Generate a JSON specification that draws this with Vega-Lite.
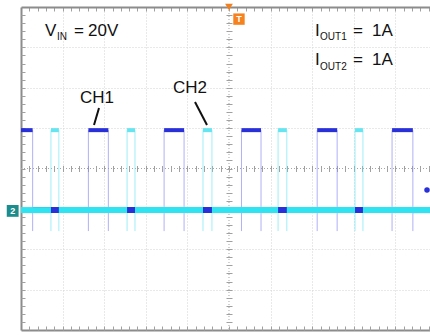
{
  "$schema": "https://vega.github.io/schema/vega-lite/v6.json",
  "width": 409,
  "height": 323,
  "autosize": "none",
  "padding": {"left": 21, "top": 7, "right": 0, "bottom": 5},
  "background": "white",
  "config": {
    "view": {"stroke": null},
    "axis": {"labels": false, "ticks": false, "domain": false, "grid": false}
  },
  "resolve": {"axis": {"x": "independent", "y": "independent"}},
  "datasets": {
    "segments": [
      {"ch": "CH1", "t0": -5, "t1": -4.72, "v": 0.95},
      {"ch": "CH1", "t0": -4.72, "t1": -3.38, "v": -1.03},
      {"ch": "CH1", "t0": -3.38, "t1": -2.9, "v": 0.95},
      {"ch": "CH1", "t0": -2.9, "t1": -1.56, "v": -1.03},
      {"ch": "CH1", "t0": -1.56, "t1": -1.08, "v": 0.95},
      {"ch": "CH1", "t0": -1.08, "t1": 0.3, "v": -1.03},
      {"ch": "CH1", "t0": 0.3, "t1": 0.77, "v": 0.95},
      {"ch": "CH1", "t0": 0.77, "t1": 2.12, "v": -1.03},
      {"ch": "CH1", "t0": 2.12, "t1": 2.6, "v": 0.95},
      {"ch": "CH1", "t0": 2.6, "t1": 3.92, "v": -1.03},
      {"ch": "CH1", "t0": 3.92, "t1": 4.42, "v": 0.95},
      {"ch": "CH1", "t0": 4.42, "t1": 4.832, "v": -1.03},
      {"ch": "CH2", "t0": -5, "t1": -4.28, "v": -1.03},
      {"ch": "CH2", "t0": -4.28, "t1": -4.09, "v": 0.95},
      {"ch": "CH2", "t0": -4.09, "t1": -2.45, "v": -1.03},
      {"ch": "CH2", "t0": -2.45, "t1": -2.26, "v": 0.95},
      {"ch": "CH2", "t0": -2.26, "t1": -0.625, "v": -1.03},
      {"ch": "CH2", "t0": -0.625, "t1": -0.41, "v": 0.95},
      {"ch": "CH2", "t0": -0.41, "t1": 1.18, "v": -1.03},
      {"ch": "CH2", "t0": 1.18, "t1": 1.39, "v": 0.95},
      {"ch": "CH2", "t0": 1.39, "t1": 3.03, "v": -1.03},
      {"ch": "CH2", "t0": 3.03, "t1": 3.22, "v": 0.95},
      {"ch": "CH2", "t0": 3.22, "t1": 4.832, "v": -1.03}
    ],
    "labels": [
      {"kind": "main", "t": "V", "x": -4.423, "y": 3.292},
      {"kind": "sub", "t": "IN", "x": -4.135, "y": 3.181},
      {"kind": "main", "t": "=", "x": -3.726, "y": 3.292},
      {"kind": "main", "t": "20V", "x": -3.389, "y": 3.292},
      {"kind": "main", "t": "I", "x": 2.067, "y": 3.292},
      {"kind": "sub", "t": "OUT1", "x": 2.19, "y": 3.181},
      {"kind": "main", "t": "=", "x": 2.981, "y": 3.292},
      {"kind": "main", "t": "1A", "x": 3.438, "y": 3.292},
      {"kind": "main", "t": "I", "x": 2.067, "y": 2.562},
      {"kind": "sub", "t": "OUT2", "x": 2.19, "y": 2.438},
      {"kind": "main", "t": "=", "x": 2.981, "y": 2.562},
      {"kind": "main", "t": "1A", "x": 3.438, "y": 2.562},
      {"kind": "main", "t": "CH1", "x": -3.582, "y": 1.621},
      {"kind": "main", "t": "CH2", "x": -1.346, "y": 1.881}
    ],
    "leaders": [
      {"x1": -3.125, "y1": 1.498, "x2": -3.245, "y2": 1.077},
      {"x1": -0.817, "y1": 1.646, "x2": -0.529, "y2": 1.077}
    ],
    "markers": [
      {"m": "trig", "x": 0, "y": 4, "lab": ""},
      {"m": "T", "x": 0.24, "y": 3.7, "lab": "T"},
      {"m": "gnd", "x": -5.2, "y": -1.05, "lab": "2"},
      {"m": "dot", "x": 4.76, "y": -0.53, "lab": ""}
    ]
  },
  "layer": [
    {
      "data": {"values": [{}]},
      "mark": {"type": "rule", "color": "#a6a6a6", "strokeDash": [1, 2], "strokeWidth": 1},
      "encoding": {
        "x": {"datum": 0, "type": "quantitative", "scale": {"domain": [-5, 4.832], "nice": false, "zero": false},
          "axis": {"orient": "bottom", "values": [-4, -3, -2, -1, 1, 2, 3, 4], "grid": true, "gridColor": "#d2d2d2", "gridDash": [1, 2], "gridWidth": 1, "domain": true, "domainColor": "#8c8c8c", "domainWidth": 2, "title": null}}
      }
    },
    {
      "data": {"values": [{}]},
      "mark": {"type": "rule", "color": "#a6a6a6", "strokeDash": [1, 2], "strokeWidth": 1},
      "encoding": {
        "y": {"datum": 0, "type": "quantitative", "scale": {"domain": [-4, 4], "nice": false, "zero": false},
          "axis": {"orient": "left", "values": [-3, -2, -1, 1, 2, 3], "grid": true, "gridColor": "#d2d2d2", "gridDash": [1, 2], "gridWidth": 1, "domain": true, "domainColor": "#8c8c8c", "domainWidth": 2, "title": null}}
      }
    },
    {
      "data": {"name": "segments"},
      "transform": [{"filter": "datum.ch == 'CH1' && datum.t0 > -4.99"}],
      "mark": {"type": "rule", "color": "#8f8ff4", "strokeWidth": 1, "opacity": 0.7},
      "encoding": {
        "x": {"field": "t0", "type": "quantitative", "scale": {"domain": [-5, 4.832], "nice": false, "zero": false},
          "axis": {"orient": "bottom", "values": [-4.8,-4.6,-4.4,-4.2,-4,-3.8,-3.6,-3.4,-3.2,-3,-2.8,-2.6,-2.4,-2.2,-2,-1.8,-1.6,-1.4,-1.2,-1,-0.8,-0.6,-0.4,-0.2,0,0.2,0.4,0.6,0.8,1,1.2,1.4,1.6,1.8,2,2.2,2.4,2.6,2.8,3,3.2,3.4,3.6,3.8,4,4.2,4.4,4.6,4.8], "ticks": true, "tickSize": -4, "tickColor": "#a0a0a0", "title": null}},
        "y": {"datum": 0.95, "type": "quantitative", "scale": {"domain": [-4, 4], "nice": false, "zero": false},
          "axis": {"orient": "left", "offset": -211, "values": [-3.8,-3.6,-3.4,-3.2,-3,-2.8,-2.6,-2.4,-2.2,-2,-1.8,-1.6,-1.4,-1.2,-1,-0.8,-0.6,-0.4,-0.2,0,0.2,0.4,0.6,0.8,1,1.2,1.4,1.6,1.8,2,2.2,2.4,2.6,2.8,3,3.2,3.4,3.6,3.8], "ticks": true, "tickSize": 6, "tickColor": "#a0a0a0", "title": null}},
        "y2": {"datum": -1.55}
      }
    },
    {
      "data": {"name": "segments"},
      "transform": [{"filter": "datum.ch == 'CH2' && datum.t0 > -4.99"}],
      "mark": {"type": "rule", "color": "#6ce6f2", "strokeWidth": 1, "opacity": 0.65},
      "encoding": {
        "x": {"field": "t0", "type": "quantitative", "scale": {"domain": [-5, 4.832], "nice": false, "zero": false},
          "axis": {"orient": "bottom", "offset": -164.5, "values": [-4.8,-4.6,-4.4,-4.2,-4,-3.8,-3.6,-3.4,-3.2,-3,-2.8,-2.6,-2.4,-2.2,-2,-1.8,-1.6,-1.4,-1.2,-1,-0.8,-0.6,-0.4,-0.2,0,0.2,0.4,0.6,0.8,1,1.2,1.4,1.6,1.8,2,2.2,2.4,2.6,2.8,3,3.2,3.4,3.6,3.8,4,4.2,4.4,4.6,4.8], "ticks": true, "tickSize": 6, "tickColor": "#a0a0a0", "title": null}},
        "y": {"datum": 0.95, "type": "quantitative", "scale": {"domain": [-4, 4], "nice": false, "zero": false}, "axis": null},
        "y2": {"datum": -1.55}
      }
    },
    {
      "data": {"name": "segments"},
      "transform": [{"filter": "datum.ch == 'CH1'"}],
      "mark": {"type": "rule", "color": "#2a30d8"},
      "encoding": {
        "x": {"field": "t0", "type": "quantitative", "scale": {"domain": [-5, 4.832], "nice": false, "zero": false},
          "axis": {"orient": "top", "values": [-4.8,-4.6,-4.4,-4.2,-4,-3.8,-3.6,-3.4,-3.2,-3,-2.8,-2.6,-2.4,-2.2,-2,-1.8,-1.6,-1.4,-1.2,-1,-0.8,-0.6,-0.4,-0.2,0,0.2,0.4,0.6,0.8,1,1.2,1.4,1.6,1.8,2,2.2,2.4,2.6,2.8,3,3.2,3.4,3.6,3.8,4,4.2,4.4,4.6,4.8], "ticks": true, "tickSize": -4, "tickColor": "#a0a0a0", "domain": true, "domainColor": "#8c8c8c", "domainWidth": 2, "title": null}},
        "x2": {"field": "t1"},
        "y": {"field": "v", "type": "quantitative", "scale": {"domain": [-4, 4], "nice": false, "zero": false},
          "axis": {"orient": "left", "values": [-3.8,-3.6,-3.4,-3.2,-3,-2.8,-2.6,-2.4,-2.2,-2,-1.8,-1.6,-1.4,-1.2,-1,-0.8,-0.6,-0.4,-0.2,0,0.2,0.4,0.6,0.8,1,1.2,1.4,1.6,1.8,2,2.2,2.4,2.6,2.8,3,3.2,3.4,3.6,3.8], "ticks": true, "tickSize": -4, "tickColor": "#a0a0a0", "title": null}},
        "strokeWidth": {"condition": {"test": "datum.v < 0", "value": 6}, "value": 4}
      }
    },
    {
      "data": {"name": "segments"},
      "transform": [{"filter": "datum.ch == 'CH2'"}],
      "mark": {"type": "rule"},
      "encoding": {
        "x": {"field": "t0", "type": "quantitative", "scale": {"domain": [-5, 4.832], "nice": false, "zero": false}, "axis": null},
        "x2": {"field": "t1"},
        "y": {"field": "v", "type": "quantitative", "scale": {"domain": [-4, 4], "nice": false, "zero": false}, "axis": null},
        "strokeWidth": {"condition": {"test": "datum.v < 0", "value": 6}, "value": 4},
        "color": {"condition": {"test": "datum.v < 0", "value": "#2fe3f0"}, "value": "#66e4ef"}
      }
    },
    {
      "data": {"name": "leaders"},
      "mark": {"type": "rule", "color": "#111111", "strokeWidth": 2},
      "encoding": {
        "x": {"field": "x1", "type": "quantitative", "scale": {"domain": [-5, 4.832], "nice": false, "zero": false}, "axis": null},
        "y": {"field": "y1", "type": "quantitative", "scale": {"domain": [-4, 4], "nice": false, "zero": false}, "axis": null},
        "x2": {"field": "x2"},
        "y2": {"field": "y2"}
      }
    },
    {
      "data": {"name": "labels"},
      "transform": [{"filter": "datum.kind == 'main'"}],
      "mark": {"type": "text", "font": "Liberation Sans", "fontSize": 17, "align": "left", "baseline": "alphabetic", "color": "#111111"},
      "encoding": {
        "x": {"field": "x", "type": "quantitative", "scale": {"domain": [-5, 4.832], "nice": false, "zero": false}, "axis": null},
        "y": {"field": "y", "type": "quantitative", "scale": {"domain": [-4, 4], "nice": false, "zero": false}, "axis": null},
        "text": {"field": "t"}
      }
    },
    {
      "data": {"name": "labels"},
      "transform": [{"filter": "datum.kind == 'sub'"}],
      "mark": {"type": "text", "font": "Liberation Sans", "fontSize": 10, "align": "left", "baseline": "alphabetic", "color": "#111111"},
      "encoding": {
        "x": {"field": "x", "type": "quantitative", "scale": {"domain": [-5, 4.832], "nice": false, "zero": false}, "axis": null},
        "y": {"field": "y", "type": "quantitative", "scale": {"domain": [-4, 4], "nice": false, "zero": false}, "axis": null},
        "text": {"field": "t"}
      }
    },
    {
      "data": {"name": "markers"},
      "transform": [{"filter": "datum.m == 'trig'"}],
      "mark": {"type": "point", "shape": "triangle-down", "filled": true, "size": 60, "color": "#f08020", "opacity": 1},
      "encoding": {
        "x": {"field": "x", "type": "quantitative", "scale": {"domain": [-5, 4.832], "nice": false, "zero": false}, "axis": null},
        "y": {"field": "y", "type": "quantitative", "scale": {"domain": [-4, 4], "nice": false, "zero": false}, "axis": null}
      }
    },
    {
      "data": {"name": "markers"},
      "transform": [{"filter": "datum.m == 'T'"}],
      "mark": {"type": "point", "shape": "square", "filled": true, "size": 130, "color": "#f5821f", "opacity": 1},
      "encoding": {
        "x": {"field": "x", "type": "quantitative", "scale": {"domain": [-5, 4.832], "nice": false, "zero": false}, "axis": null},
        "y": {"field": "y", "type": "quantitative", "scale": {"domain": [-4, 4], "nice": false, "zero": false}, "axis": null}
      }
    },
    {
      "data": {"name": "markers"},
      "transform": [{"filter": "datum.m == 'gnd'"}],
      "mark": {"type": "point", "shape": "square", "filled": true, "size": 140, "color": "#1d8c8c", "opacity": 1},
      "encoding": {
        "x": {"field": "x", "type": "quantitative", "scale": {"domain": [-5, 4.832], "nice": false, "zero": false}, "axis": null},
        "y": {"field": "y", "type": "quantitative", "scale": {"domain": [-4, 4], "nice": false, "zero": false}, "axis": null}
      }
    },
    {
      "data": {"name": "markers"},
      "transform": [{"filter": "datum.m == 'T' || datum.m == 'gnd'"}],
      "mark": {"type": "text", "font": "Liberation Sans", "fontSize": 9, "fontWeight": "bold", "align": "center", "baseline": "middle", "color": "white"},
      "encoding": {
        "x": {"field": "x", "type": "quantitative", "scale": {"domain": [-5, 4.832], "nice": false, "zero": false}, "axis": null},
        "y": {"field": "y", "type": "quantitative", "scale": {"domain": [-4, 4], "nice": false, "zero": false}, "axis": null},
        "text": {"field": "lab"}
      }
    },
    {
      "data": {"name": "markers"},
      "transform": [{"filter": "datum.m == 'dot'"}],
      "mark": {"type": "point", "shape": "circle", "filled": true, "size": 30, "color": "#2a30d8", "opacity": 1},
      "encoding": {
        "x": {"field": "x", "type": "quantitative", "scale": {"domain": [-5, 4.832], "nice": false, "zero": false}, "axis": null},
        "y": {"field": "y", "type": "quantitative", "scale": {"domain": [-4, 4], "nice": false, "zero": false}, "axis": null}
      }
    }
  ]
}
